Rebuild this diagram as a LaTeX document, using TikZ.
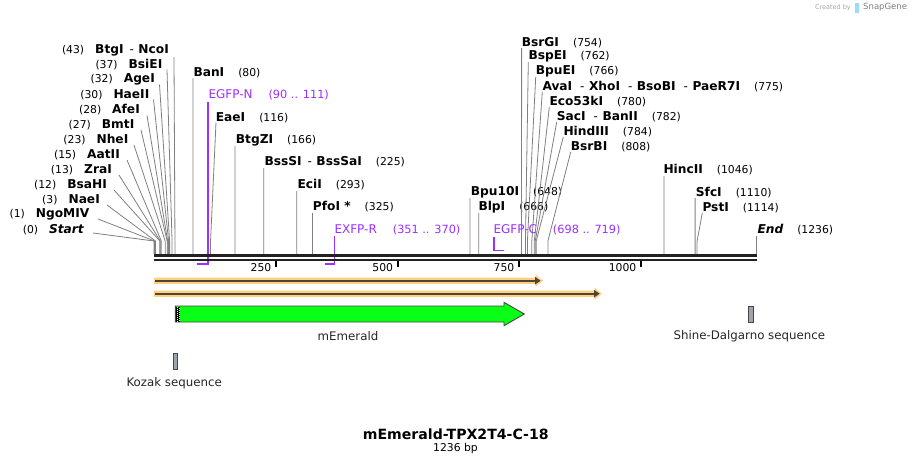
\documentclass[tikz,border=0pt]{standalone}
\usepackage{fontspec}
\setmainfont{DejaVu Sans}
\definecolor{purp}{RGB}{155,48,255}
\definecolor{sitegray}{RGB}{128,128,128}
\definecolor{bbcol}{RGB}{34,34,34}
\definecolor{orng}{RGB}{255,208,130}
\definecolor{ordark}{RGB}{80,68,52}
\definecolor{grn}{RGB}{10,255,22}
\definecolor{edgecol}{RGB}{70,70,70}
\definecolor{featgray}{RGB}{160,165,172}
\newcommand{\en}[1]{{\fontsize{12.2}{14}\selectfont\bfseries #1}}
\newcommand{\bpn}[1]{{\fontsize{10.8}{13}\selectfont (#1)}}
\newcommand{\dsh}{\hspace{6pt}{\fontsize{12}{14}\selectfont -}\hspace{4.5pt}}
\newcommand{\gapn}{\hspace{14pt}}
\newcommand{\siteL}[7]{%
  \node[lbl,anchor=east] (n#1) at (#2,#3) {#4};
  \coordinate (a#1) at (#5,#6);
  \coordinate (s#1) at ({154+0.4875*#7},241);
  \coordinate (b#1) at ({154+0.4875*#7},254);
  \draw[siteline] (a#1) -- (s#1) -- (b#1);}
\newcommand{\siteR}[7]{%
  \node[lbl,anchor=west] (n#1) at (#2,#3) {#4};
  \coordinate (a#1) at (#5,#6);
  \coordinate (s#1) at ({154+0.4875*#7},241);
  \coordinate (b#1) at ({154+0.4875*#7},254);
  \draw[siteline] (a#1) -- (s#1) -- (b#1);}
\begin{document}
\begin{tikzpicture}[x=1pt,y=-1pt,
  lbl/.style={inner sep=0pt,text=black},
  plbl/.style={inner sep=0pt,text=purp,font=\fontsize{12}{14}\selectfont},
  siteline/.style={draw=sitegray,line width=0.8pt},
  primer/.style={draw=purp,line width=1.8pt},
  featlbl/.style={inner sep=0pt,font=\fontsize{11.8}{14}\selectfont,text=black!85},
  ticklbl/.style={inner sep=0pt,font=\fontsize{10.8}{13}\selectfont,anchor=east},
  tickmark/.style={draw=black,line width=2pt},
  feat/.style={draw=edgecol,line width=0.8pt,fill=featgray}]
\useasboundingbox (0,0) rectangle (912,464);
\fill[white] (0,0) rectangle (912,464);

% watermark
\node[inner sep=0pt,anchor=east,text=black!35,font=\fontsize{6.5}{8}\selectfont] (wm1) at (851,7.5) {Created by};
\fill[cyan!40] (855,3) rectangle (858.5,12.5);
\node[inner sep=0pt,anchor=west,text=black!50,font=\fontsize{8.5}{10}\selectfont] (wm2) at (863,7.5) {SnapGene};

% left fan
\siteL{BtgI}{169}{50.5}{\bpn{43}\hspace{11pt}\en{BtgI}\dsh\en{NcoI}}{174}{57}{43}
\siteL{BsiEI}{162.5}{64.5}{\bpn{37}\hspace{11pt}\en{BsiEI}}{167}{69.5}{37}
\siteL{AgeI}{155}{79.5}{\bpn{32}\hspace{11pt}\en{AgeI}}{159.5}{84.5}{32}
\siteL{HaeII}{149.5}{94.5}{\bpn{30}\hspace{11pt}\en{HaeII}}{153.5}{99.5}{30}
\siteL{AfeI}{140}{110}{\bpn{28}\hspace{11pt}\en{AfeI}}{147}{115.5}{28}
\siteL{BmtI}{134.5}{124.5}{\bpn{27}\hspace{11pt}\en{BmtI}}{141}{130}{27}
\siteL{NheI}{128.5}{139.5}{\bpn{23}\hspace{11pt}\en{NheI}}{134}{145}{23}
\siteL{AatII}{120}{155}{\bpn{15}\hspace{11pt}\en{AatII}}{127}{160}{15}
\siteL{ZraI}{112}{170}{\bpn{13}\hspace{11pt}\en{ZraI}}{119}{175}{13}
\siteL{BsaHI}{107}{185}{\bpn{12}\hspace{11pt}\en{BsaHI}}{114}{190}{12}
\siteL{NaeI}{100}{199.5}{\bpn{3}\hspace{11pt}\en{NaeI}}{107}{205}{3}
\siteL{NgoMIV}{89.5}{214}{\bpn{1}\hspace{11pt}\en{NgoMIV}}{98}{219}{1}
\siteL{Start}{84}{230}{\bpn{0}\hspace{11pt}\en{\itshape Start}}{93}{233}{0}

% middle and right sites
\siteR{BanI}{193.3}{72.5}{\en{BanI}\gapn\bpn{80}}{193}{78}{80}
\siteR{EaeI}{215.7}{117.3}{\en{EaeI}\gapn\bpn{116}}{216}{122.5}{116}
\siteR{BtgZI}{235.7}{140}{\en{BtgZI}\gapn\bpn{166}}{234.9}{146}{166}
\siteR{BssSI}{264.3}{162}{\en{BssSI}\dsh\en{BssSaI}\gapn\bpn{225}}{263.7}{168}{225}
\siteR{EciI}{297.3}{185}{\en{EciI}\gapn\bpn{293}}{296.8}{191}{293}
\siteR{PfoI}{312.7}{207}{\en{PfoI *}\gapn\bpn{325}}{312.4}{213}{325}
\siteR{BpuX}{470.7}{192.3}{\en{Bpu10I}\gapn\bpn{648}}{469.9}{198}{648}
\siteR{BlpI}{478.3}{207}{\en{BlpI}\gapn\bpn{666}}{478.7}{213}{666}
\siteR{BsrGI}{521.7}{42.3}{\en{BsrGI}\gapn\bpn{754}}{521.6}{48}{754}
\siteR{BspEI}{528.3}{56.7}{\en{BspEI}\gapn\bpn{762}}{528.3}{62}{762}
\siteR{BpuEI}{535.7}{71.7}{\en{BpuEI}\gapn\bpn{766}}{535.7}{77}{766}
\siteR{AvaI}{542.3}{86.7}{\en{AvaI}\hspace{2pt}\dsh\en{XhoI}\hspace{2pt}\dsh\en{BsoBI}\hspace{2pt}\dsh\en{PaeR7I}\gapn\bpn{775}}{542.3}{92}{775}
\siteR{Eco}{549.3}{101.7}{\en{Eco53kI}\gapn\bpn{780}}{549.3}{107}{780}
\siteR{SacI}{556.7}{116.7}{\en{SacI}\hspace{2pt}\dsh\en{BanII}\gapn\bpn{782}}{556.7}{122}{782}
\siteR{HindIII}{563.3}{131.7}{\en{HindIII}\gapn\bpn{784}}{563.3}{137}{784}
\siteR{BsrBI}{570.7}{146.7}{\en{BsrBI}\gapn\bpn{808}}{570.7}{152}{808}
\siteR{HincII}{663.3}{170}{\en{HincII}\gapn\bpn{1046}}{663.9}{176}{1046}
\siteR{SfcI}{695.7}{192.3}{\en{SfcI}\gapn\bpn{1110}}{695.1}{198}{1110}
\siteR{PstI}{702.3}{207.3}{\en{PstI}\gapn\bpn{1114}}{702.3}{213}{1114}
\siteR{End}{757.3}{229.3}{\en{\itshape End}\gapn\bpn{1236}}{756.6}{236}{1236}

% primers
\node[plbl,anchor=west] (pN) at (208.3,95) {EGFP-N\hspace{16pt}{\fontsize{11.3}{13}\selectfont(90 .. 111)}};
\coordinate (pNa) at (208.3,101.5);
\coordinate (pNb) at (208.3,264);
\coordinate (pNc) at (197.4,264);
\draw[primer] (pNa) -- (pNb) -- (pNc);

\node[plbl,anchor=west] (pR) at (334.3,230) {EXFP-R\hspace{16pt}{\fontsize{11.3}{13}\selectfont(351 .. 370)}};
\coordinate (pRa) at (334.4,236);
\coordinate (pRb) at (334.4,264);
\coordinate (pRc) at (324.6,264);
\draw[primer] (pRa) -- (pRb) -- (pRc);

\node[plbl,anchor=west] (pC) at (493.3,230) {EGFP-C\hspace{16pt}{\fontsize{11.3}{13}\selectfont(698 .. 719)}};
\coordinate (pCa) at (493.8,237);
\coordinate (pCb) at (493.8,250.5);
\coordinate (pCc) at (504,250.5);
\draw[primer] (pCa) -- (pCb) -- (pCc);

% backbone
\draw[bbcol,line width=3pt] (154,255.5) -- (757,255.5);
\draw[bbcol,line width=2pt] (154,260) -- (757,260);

% ruler ticks
\foreach \t/\xx in {250/276,500/397.7,750/519,1000/641}{
  \draw[tickmark] (\xx,260.5) -- (\xx,267);
  \node[ticklbl] (tick\t) at (\xx-4.5,267.5) {\t};
}

% orange arrows
\fill[orng] (154,277.6) -- (535.5,277.6) -- (535.5,274.6) -- (542.8,280.7) -- (535.5,286.8) -- (535.5,283.8) -- (154,283.8) -- cycle;
\draw[ordark,line width=2pt] (155,280.7) -- (536,280.7);
\fill[ordark] (535,276.9) -- (540.6,280.7) -- (535,284.5) -- cycle;

\fill[orng] (154,290.6) -- (594.5,290.6) -- (594.5,287.6) -- (601.8,293.7) -- (594.5,299.8) -- (594.5,296.8) -- (154,296.8) -- cycle;
\draw[ordark,line width=2pt] (155,293.7) -- (595,293.7);
\fill[ordark] (594,289.9) -- (599.6,293.7) -- (594,297.5) -- cycle;

% green feature arrow
\draw[edgecol,fill=grn,line width=0.9pt] (175.3,306) -- (504,306) -- (504,302.3) -- (524.3,314) -- (504,325.7) -- (504,322) -- (175.3,322) -- cycle;
\fill[black] (176.2,306.5) rectangle (179.8,321.5);
\draw[white,line width=0.8pt,dash pattern=on 1pt off 1pt] (177.1,306.5) -- (177.1,321.5);
\draw[white,line width=0.8pt,dash pattern=on 1pt off 1pt,dash phase=1pt] (178.9,306.5) -- (178.9,321.5);
\node[featlbl] (lblEm) at (348,336) {mEmerald};

% small features
\draw[feat] (748.3,306.3) rectangle (753.7,322.3);
\node[featlbl] (lblSD) at (749.3,336) {Shine-Dalgarno sequence};
\draw[feat] (173.3,353.3) rectangle (177.7,369.3);
\node[featlbl] (lblKz) at (174.2,383) {Kozak sequence};

% title
\node[inner sep=0pt,font=\fontsize{14.1}{16}\selectfont\bfseries] (title) at (455.8,434) {mEmerald-TPX2T4-C-18};
\node[inner sep=0pt,font=\fontsize{10.8}{13}\selectfont] (len) at (455.5,448.5) {1236 bp};
\end{tikzpicture}
\end{document}
